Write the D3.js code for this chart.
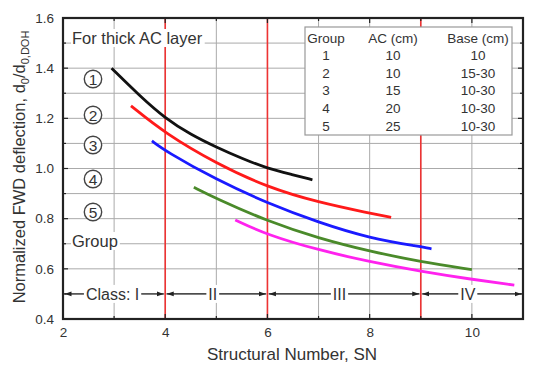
<!DOCTYPE html>
<html>
<head>
<meta charset="utf-8">
<script src="https://cdn.jsdelivr.net/npm/d3@7"></script>
<style>
  html, body { margin: 0; padding: 0; background: #fff; }
  svg { display: block; font-family: Arial, "Liberation Sans", sans-serif; }
</style>
</head>
<body>
<svg id="chart" width="541" height="365"></svg>
<script>
// ---- data ----
const xTicks = [2, 4, 6, 8, 10];
const yTicks = [0.4, 0.6, 0.8, 1.0, 1.2, 1.4, 1.6];
const classBounds = [4, 6, 9];
const classNames = ["Class: I", "II", "III", "IV"];
const classEdges = [2, 4, 6, 9, 11];
const classLabelX = [2.97, 4.93, 7.41, 9.92];
const groupLabels = ["1", "2", "3", "4", "5"];
const seriesColors = ["#111111", "#ff1a1a", "#1a1aff", "#4a8a2a", "#ff22ee"];

const group1 = [[2.95,1.40],[3.5,1.29],[4,1.20],[4.5,1.135],[5,1.085],[5.5,1.04],[6,1.00],[6.5,0.975],[6.88,0.955]];
const group2 = [[3.33,1.25],[4,1.14],[5,1.02],[6,0.925],[7,0.865],[8,0.822],[8.42,0.805]];
const group3 = [[3.74,1.11],[4,1.07],[5,0.955],[6,0.862],[7,0.785],[8,0.722],[9,0.688],[9.21,0.68]];
const group4 = [[4.56,0.925],[5,0.88],[6,0.79],[7,0.722],[8,0.67],[9,0.628],[10.0,0.597]];
const group5 = [[5.37,0.795],[6,0.735],[7,0.675],[8,0.628],[9,0.59],[10,0.558],[10.83,0.535]];
const seriesData = [group1, group2, group3, group4, group5];

const tableHeader = ["Group", "AC (cm)", "Base (cm)"];
const tableGroup = ["1", "2", "3", "4", "5"];
const tableAC = ["10", "10", "15", "20", "25"];
const tableBase = ["10", "15-30", "10-30", "10-30", "10-30"];

// ---- layout ----
const svg = d3.select("#chart");
const L = 63, R = 523, T = 18, B = 319;
const x = d3.scaleLinear().domain([2, 11]).range([L, R]);
const y = d3.scaleLinear().domain([0.4, 1.6]).range([B, T]);
const textColor = "#333";

// grid
const gx = d3.range(3, 11, 1);
const gy = d3.range(0.5, 1.6, 0.1).map(v => +v.toFixed(1));
svg.append("g").selectAll("line").data(gx).join("line")
  .attr("x1", d => x(d)).attr("x2", d => x(d)).attr("y1", T).attr("y2", B)
  .attr("stroke", "#aaa").attr("stroke-width", 1);
svg.append("g").selectAll("line").data(gy).join("line")
  .attr("x1", L).attr("x2", R).attr("y1", d => y(d)).attr("y2", d => y(d))
  .attr("stroke", "#aaa").attr("stroke-width", 1);

// class boundaries
svg.append("g").selectAll("line").data(classBounds).join("line")
  .attr("x1", d => x(d)).attr("x2", d => x(d)).attr("y1", T).attr("y2", B)
  .attr("stroke", "#ee3333").attr("stroke-width", 1.6);

// legend table
const tb = svg.append("g");
tb.append("rect").attr("x", 305).attr("y", 27).attr("width", 207).attr("height", 108)
  .attr("fill", "#fff").attr("stroke", "#999").attr("stroke-width", 1.2);
const colX = [326, 393, 478];
const rowY0 = 42.5, rowDy = 17.6;
tb.selectAll("text.h").data(tableHeader).join("text")
  .attr("x", (d, i) => colX[i]).attr("y", rowY0).attr("text-anchor", "middle")
  .attr("font-size", 13.5).attr("fill", textColor).text(d => d);
[tableGroup, tableAC, tableBase].forEach((col, ci) => {
  tb.selectAll("text.c" + ci).data(col).join("text")
    .attr("x", colX[ci]).attr("y", (d, i) => rowY0 + (i + 1) * rowDy)
    .attr("text-anchor", "middle").attr("font-size", 13.5).attr("fill", textColor).text(d => d);
});

// curves
const line = d3.line().x(d => x(d[0])).y(d => y(d[1])).curve(d3.curveBasis);
svg.append("g").selectAll("path").data(seriesData).join("path")
  .attr("d", line).attr("fill", "none")
  .attr("stroke", (d, i) => seriesColors[i]).attr("stroke-width", 2.8);

// class arrows
const defs = svg.append("defs");
defs.append("marker").attr("id", "arr").attr("viewBox", "0 0 10 10").attr("refX", 10).attr("refY", 5)
  .attr("markerWidth", 7).attr("markerHeight", 7).attr("markerUnits", "userSpaceOnUse").attr("orient", "auto")
  .append("path").attr("d", "M0,1.5 L10,5 L0,8.5 Z").attr("fill", "#222");
const cy = y(0.5);
const cls = svg.append("g");
classNames.forEach((name, i) => {
  const a = x(classEdges[i]) + 1.5, b = x(classEdges[i + 1]) - 1.5;
  const mid = x(classLabelX[i]);
  const bg = cls.append("rect").attr("fill", "#fff");
  const t = cls.append("text").attr("x", mid).attr("y", cy + 6).attr("text-anchor", "middle")
    .attr("font-size", 16).attr("fill", textColor).text(name);
  const w = t.node().getComputedTextLength();
  const half = w / 2 + 2;
  bg.attr("x", mid - half).attr("y", cy - 9).attr("width", 2 * half).attr("height", 18);
  cls.append("line").attr("x1", mid - half).attr("x2", a).attr("y1", cy).attr("y2", cy)
    .attr("stroke", "#222").attr("stroke-width", 1.2).attr("marker-end", "url(#arr)");
  cls.append("line").attr("x1", mid + half).attr("x2", b).attr("y1", cy).attr("y2", cy)
    .attr("stroke", "#222").attr("stroke-width", 1.2).attr("marker-end", "url(#arr)");
});

// circled group numbers
const circY = [79, 115, 145, 179, 212];
const cg = svg.append("g");
cg.selectAll("circle").data(groupLabels).join("circle")
  .attr("cx", 93).attr("cy", (d, i) => circY[i]).attr("r", 8.7)
  .attr("fill", "#fff").attr("stroke", "#444").attr("stroke-width", 1.4);
cg.selectAll("text").data(groupLabels).join("text")
  .attr("x", 93).attr("y", (d, i) => circY[i] + 5.5).attr("text-anchor", "middle")
  .attr("font-size", 15.5).attr("fill", textColor).text(d => d);

function labelWithBg(tx, ty, str, size) {
  const g = svg.append("g");
  const r = g.append("rect").attr("fill", "#fff");
  const t = g.append("text").attr("x", tx).attr("y", ty).attr("font-size", size).attr("fill", textColor).text(str);
  const bb = t.node().getBBox();
  r.attr("x", bb.x - 1).attr("y", bb.y).attr("width", bb.width + 3).attr("height", bb.height);
}
labelWithBg(72, 247, "Group", 16.5);
labelWithBg(72, 44, "For thick AC layer", 16.5);

// axes frame
svg.append("rect").attr("x", L).attr("y", T).attr("width", R - L).attr("height", B - T)
  .attr("fill", "none").attr("stroke", "#222").attr("stroke-width", 2.2);

// ticks (inward)
const minorX = d3.range(2, 11.01, 1);
const minorY = d3.range(0.4, 1.61, 0.1).map(v => +v.toFixed(1));
const tk = svg.append("g").attr("stroke", "#222").attr("stroke-width", 1.2);
minorX.forEach(v => {
  const len = (v % 2 === 0) ? 5 : 3;
  tk.append("line").attr("x1", x(v)).attr("x2", x(v)).attr("y1", B).attr("y2", B - len);
  tk.append("line").attr("x1", x(v)).attr("x2", x(v)).attr("y1", T).attr("y2", T + len);
});
minorY.forEach(v => {
  const len = (Math.round(v * 10) % 2 === 0) ? 5 : 3;
  tk.append("line").attr("x1", L).attr("x2", L + len).attr("y1", y(v)).attr("y2", y(v));
  tk.append("line").attr("x1", R).attr("x2", R - len).attr("y1", y(v)).attr("y2", y(v));
});

// tick labels via axes
const xAxis = d3.axisBottom(x).tickValues(xTicks).tickSize(0).tickPadding(8).tickFormat(d3.format("d"));
const gxA = svg.append("g").attr("transform", `translate(0,${B})`).call(xAxis);
gxA.select(".domain").remove();
gxA.selectAll("text").attr("font-size", 13.5).attr("fill", textColor).attr("font-family", "Arial, 'Liberation Sans', sans-serif");
const yAxis = d3.axisLeft(y).tickValues(yTicks).tickSize(0).tickPadding(9).tickFormat(d3.format(".1f"));
const gyA = svg.append("g").attr("transform", `translate(${L},0)`).call(yAxis);
gyA.select(".domain").remove();
gyA.selectAll("text").attr("font-size", 13.5).attr("fill", textColor).attr("font-family", "Arial, 'Liberation Sans', sans-serif");

// axis titles
svg.append("text").attr("x", 292).attr("y", 360).attr("text-anchor", "middle")
  .attr("font-size", 17).attr("fill", textColor).text("Structural Number, SN");
const yt = svg.append("text").attr("transform", `translate(25,167) rotate(-90)`)
  .attr("text-anchor", "middle").attr("font-size", 16.5).attr("fill", textColor);
yt.append("tspan").text("Normalized FWD deflection, d");
yt.append("tspan").attr("font-size", 11).attr("dy", 4).text("0");
yt.append("tspan").attr("dy", -4).text("/d");
yt.append("tspan").attr("font-size", 11).attr("dy", 4).text("0,DOH");
</script>
</body>
</html>
